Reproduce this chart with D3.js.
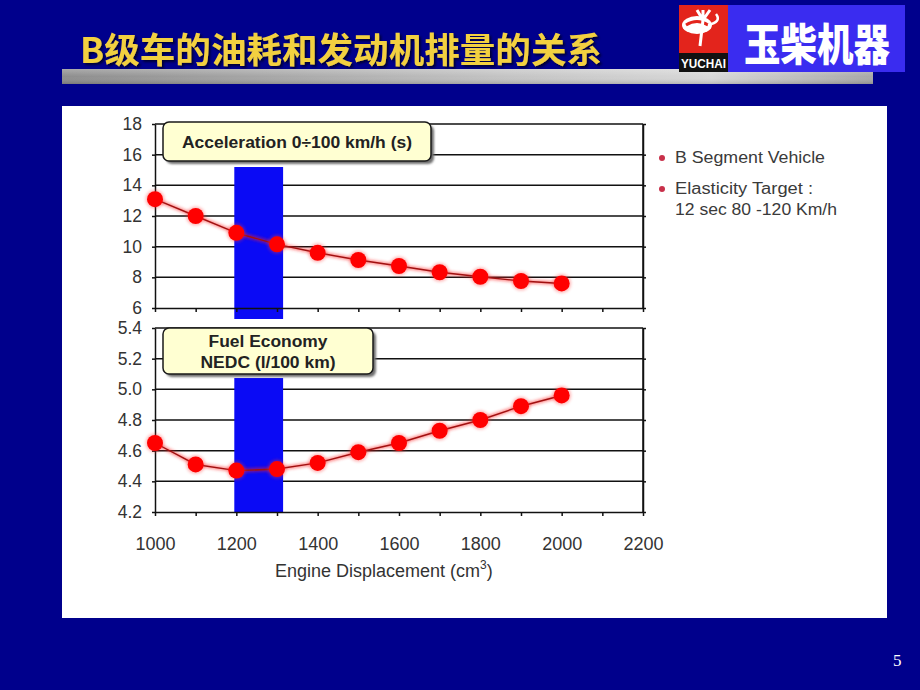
<!DOCTYPE html>
<html><head><meta charset="utf-8">
<script src="https://cdn.jsdelivr.net/npm/d3@7"></script>
<style>body{margin:0;background:#00008c;} svg{display:block}</style>
</head><body>
<script>
// ---------- data ----------
const displacement = [1000,1100,1200,1300,1400,1500,1600,1700,1800,1900,2000];
const acceleration = [13.1,12.0,10.9,10.15,9.6,9.13,8.74,8.33,8.04,7.76,7.6];
const fuelEconomy  = [4.65,4.51,4.47,4.48,4.52,4.59,4.65,4.73,4.80,4.89,4.96];
const xLabelTicks = [1000,1200,1400,1600,1800,2000,2200];
const xMinorTicks = [1000,1100,1200,1300,1400,1500,1600,1700,1800,1900,2000,2100,2200];
const accelTicks = [6,8,10,12,14,16,18];
const fuelTicks  = [4.2,4.4,4.6,4.8,5.0,5.2,5.4];
const bandRange = [1195,1315];
const titleText = "B级车的油耗和发动机排量的关系";
const logoText = "玉柴机器";
const accelLabel = ["Acceleration 0÷100 km/h (s)"];
const fuelLabel = ["Fuel Economy","NEDC (l/100 km)"];
const legendItems = [["B Segment Vehicle"],["Elasticity Target :","12 sec 80 -120 Km/h"]];
const xAxisTitle = "Engine Displacement (cm";
const pageNumber = "5";

// ---------- layout ----------
const W = 920, H = 690;
const svg = d3.select("body").append("svg").attr("width",W).attr("height",H);
svg.append("rect").attr("width",W).attr("height",H).attr("fill","#00008c");

const defs = svg.append("defs");
const g1 = defs.append("linearGradient").attr("id","bar").attr("x1",0).attr("x2",1).attr("y1",0).attr("y2",0);
g1.append("stop").attr("offset","0%").attr("stop-color","#8e8e8e");
g1.append("stop").attr("offset","55%").attr("stop-color","#c4c4c4");
g1.append("stop").attr("offset","80%").attr("stop-color","#d8d8d8");
g1.append("stop").attr("offset","100%").attr("stop-color","#a8a8a8");
const g2 = defs.append("linearGradient").attr("id","barv").attr("x1",0).attr("x2",0).attr("y1",0).attr("y2",1);
g2.append("stop").attr("offset","0%").attr("stop-color","#ffffff").attr("stop-opacity",0.25);
g2.append("stop").attr("offset","50%").attr("stop-color","#ffffff").attr("stop-opacity",0);
g2.append("stop").attr("offset","100%").attr("stop-color","#000000").attr("stop-opacity",0.15);
defs.append("filter").attr("id","soft").append("feGaussianBlur").attr("stdDeviation",0.7);
defs.append("filter").attr("id","glow").attr("x","-20%").attr("y","-50%").attr("width","140%").attr("height","200%")
  .append("feGaussianBlur").attr("stdDeviation",1.5);
defs.append("filter").attr("id","shadow").append("feGaussianBlur").attr("stdDeviation",1.2);
defs.append("filter").attr("id","tshadow").append("feDropShadow")
  .attr("dx",2).attr("dy",2).attr("stdDeviation",0.8).attr("flood-color","#000022").attr("flood-opacity",0.8);

// Title
svg.append("text").attr("x",80).attr("y",63).text(titleText)
  .attr("font-family","'Noto Sans CJK SC'").attr("font-weight","bold").attr("font-size",35)
  .attr("textLength",522).attr("lengthAdjust","spacingAndGlyphs").attr("fill","#f2d040")
  .attr("filter","url(#tshadow)");

// Gray bar
svg.append("rect").attr("x",62).attr("y",69).attr("width",811).attr("height",15).attr("fill","url(#bar)");
svg.append("rect").attr("x",62).attr("y",69).attr("width",811).attr("height",15).attr("fill","url(#barv)");

// Logo
const logo = svg.append("g");
logo.append("rect").attr("x",679).attr("y",5).attr("width",49).attr("height",48).attr("fill","#e3241c");
logo.append("rect").attr("x",679).attr("y",53).attr("width",49).attr("height",19).attr("fill","#111");
logo.append("text").attr("x",681).attr("y",68).text("YUCHAI").attr("fill","#fff")
  .attr("font-family","'Liberation Sans Narrow','Liberation Sans'").attr("font-weight","bold").attr("font-size",13)
  .attr("textLength",45).attr("lengthAdjust","spacingAndGlyphs");
logo.append("ellipse").attr("cx",697).attr("cy",25).attr("rx",15).attr("ry",9).attr("fill","#fff");
logo.append("path").attr("d","M686,25 Q697,18 708,25").attr("stroke","#e3241c").attr("stroke-width",3).attr("fill","none");
logo.append("path").attr("d","M703,10 L703,20 M710,10 L703,20 M697,10 L703,20 M703,20 L700,46").attr("stroke","#fff").attr("stroke-width",3).attr("fill","none");
logo.append("path").attr("d","M708,25 Q722,22 716,14").attr("stroke","#fff").attr("stroke-width",2.5).attr("fill","none");
logo.append("rect").attr("x",728).attr("y",5).attr("width",177).attr("height",67).attr("fill","#3a2cf0");
logo.append("text").attr("x",744).attr("y",61).text(logoText).attr("fill","#fff")
  .attr("font-family","'Noto Sans CJK SC'").attr("font-weight",900).attr("font-size",44)
  .attr("textLength",146).attr("lengthAdjust","spacingAndGlyphs");

// White panel
svg.append("rect").attr("x",62).attr("y",106).attr("width",825).attr("height",512).attr("fill","#ffffff");

// scales
const x = d3.scaleLinear().domain([1000,2200]).range([155,643]);
const yTop = d3.scaleLinear().domain([6,18]).range([308,124]);
const yBot = d3.scaleLinear().domain([4.2,5.4]).range([512,328]);

const font = "'Liberation Sans', Arial, sans-serif";

function panel(y, ticks, fmt, values, bandTop, bandBottom, showXLabels) {
  const g = svg.append("g");
  g.selectAll("line.grid").data(ticks.slice(1)).join("line")
    .attr("x1",x(1000)).attr("x2",x(2200)).attr("y1",d=>y(d)).attr("y2",d=>y(d))
    .attr("stroke","#111").attr("stroke-width",1.5);
  g.append("line").attr("x1",x(2200)).attr("x2",x(2200)).attr("y1",y(ticks[0])).attr("y2",y(ticks[ticks.length-1]))
    .attr("stroke","#111").attr("stroke-width",1.5);
  g.append("rect").attr("x",x(bandRange[0])).attr("width",x(bandRange[1])-x(bandRange[0]))
    .attr("y",bandTop).attr("height",bandBottom-bandTop).attr("fill","#0a0af5");
  const la = g.append("g").attr("transform",`translate(${x(1000)},0)`)
    .call(d3.axisLeft(y).tickValues(ticks).tickFormat(fmt).tickSize(3).tickSizeOuter(0).tickPadding(10));
  la.selectAll("text").attr("font-family",font).attr("font-size",17.5).attr("fill","#333");
  g.append("g").attr("transform",`translate(${x(2200)},0)`)
    .call(d3.axisRight(y).tickValues(ticks).tickFormat("").tickSize(3).tickSizeOuter(0));
  g.append("g").attr("transform",`translate(0,${y(ticks[0])})`)
    .call(d3.axisBottom(x).tickValues(xMinorTicks).tickFormat("").tickSize(4).tickSizeOuter(0));
  if (showXLabels) {
    const xa = g.append("g").attr("transform",`translate(0,${y(ticks[0])})`)
      .call(d3.axisBottom(x).tickValues(xLabelTicks).tickFormat(d3.format("d")).tickSize(0).tickPadding(25));
    xa.select(".domain").remove();
    xa.selectAll("text").attr("font-family",font).attr("font-size",18).attr("fill","#333");
  }
  g.selectAll(".domain, .tick line").attr("stroke","#111").attr("stroke-width",1.5);

  const pts = displacement.map((d,i)=>[x(d), y(values[i])]);
  const line = d3.line();
  g.append("path").attr("d",line(pts)).attr("fill","none").attr("stroke","#ff2020")
    .attr("stroke-width",4).attr("opacity",0.5).attr("filter","url(#glow)");
  g.append("path").attr("d",line(pts)).attr("fill","none").attr("stroke","#a01010").attr("stroke-width",1.4);
  g.selectAll("circle.halo").data(pts).join("circle").attr("cx",d=>d[0]).attr("cy",d=>d[1]).attr("r",9.5)
    .attr("fill","#ff3030").attr("opacity",0.35).attr("filter","url(#glow)");
  g.selectAll("circle.pt").data(pts).join("circle").attr("cx",d=>d[0]).attr("cy",d=>d[1]).attr("r",8)
    .attr("fill","#ff0000").attr("filter","url(#soft)");
  return g;
}

panel(yTop, accelTicks, d3.format("d"), acceleration, 167, 319, false);
panel(yBot, fuelTicks, d3.format(".1f"), fuelEconomy, 378, 512, true);

// label boxes
function labelBox(bx, by, bw, bh, lines, widths, cy0, lh) {
  svg.append("rect").attr("x",bx+3).attr("y",by+3).attr("width",bw).attr("height",bh).attr("rx",6)
    .attr("fill","#707070").attr("filter","url(#shadow)");
  svg.append("rect").attr("x",bx).attr("y",by).attr("width",bw).attr("height",bh).attr("rx",6)
    .attr("fill","#ffffd2").attr("stroke","#1a1a1a").attr("stroke-width",1.5);
  svg.append("g").selectAll("text").data(lines).join("text")
    .attr("x",bx+bw/2).attr("y",(d,i)=>cy0+i*lh).attr("text-anchor","middle")
    .attr("font-family",font).attr("font-weight","bold").attr("font-size",16).attr("fill","#222")
    .attr("textLength",(d,i)=>widths[i]).attr("lengthAdjust","spacingAndGlyphs")
    .text(d=>d);
}
labelBox(163, 122, 268, 39, accelLabel, [230], 148, 0);
labelBox(163, 328, 210, 46, fuelLabel, [119,135], 347, 21);

// x axis title
const xt = svg.append("text").attr("x",275).attr("y",577)
  .attr("font-family",font).attr("font-size",18).attr("fill","#333").attr("text-anchor","start");
xt.append("tspan").text(xAxisTitle);
xt.append("tspan").text("3").attr("font-size",12).attr("dy",-8);
xt.append("tspan").text(")").attr("dy",8);

// legend
const lg = svg.append("g");
const legendWidths = [[150],[138,162]];
legendItems.forEach((item,i)=>{
  const yy = i===0 ? 158 : 189;
  lg.append("circle").attr("cx",662).attr("cy",yy).attr("r",3).attr("fill","#c8304a");
  item.forEach((t,j)=>{
    lg.append("text").attr("x",675).attr("y",yy+5+j*21).text(t)
      .attr("font-family",font).attr("font-size",16).attr("fill","#3a3a3a")
      .attr("textLength",legendWidths[i][j]).attr("lengthAdjust","spacingAndGlyphs");
  });
});

// page number
svg.append("text").attr("x",893).attr("y",666).text(pageNumber).attr("fill","#fff")
  .attr("font-family","'Liberation Serif', serif").attr("font-size",17);
</script>
</body></html>
